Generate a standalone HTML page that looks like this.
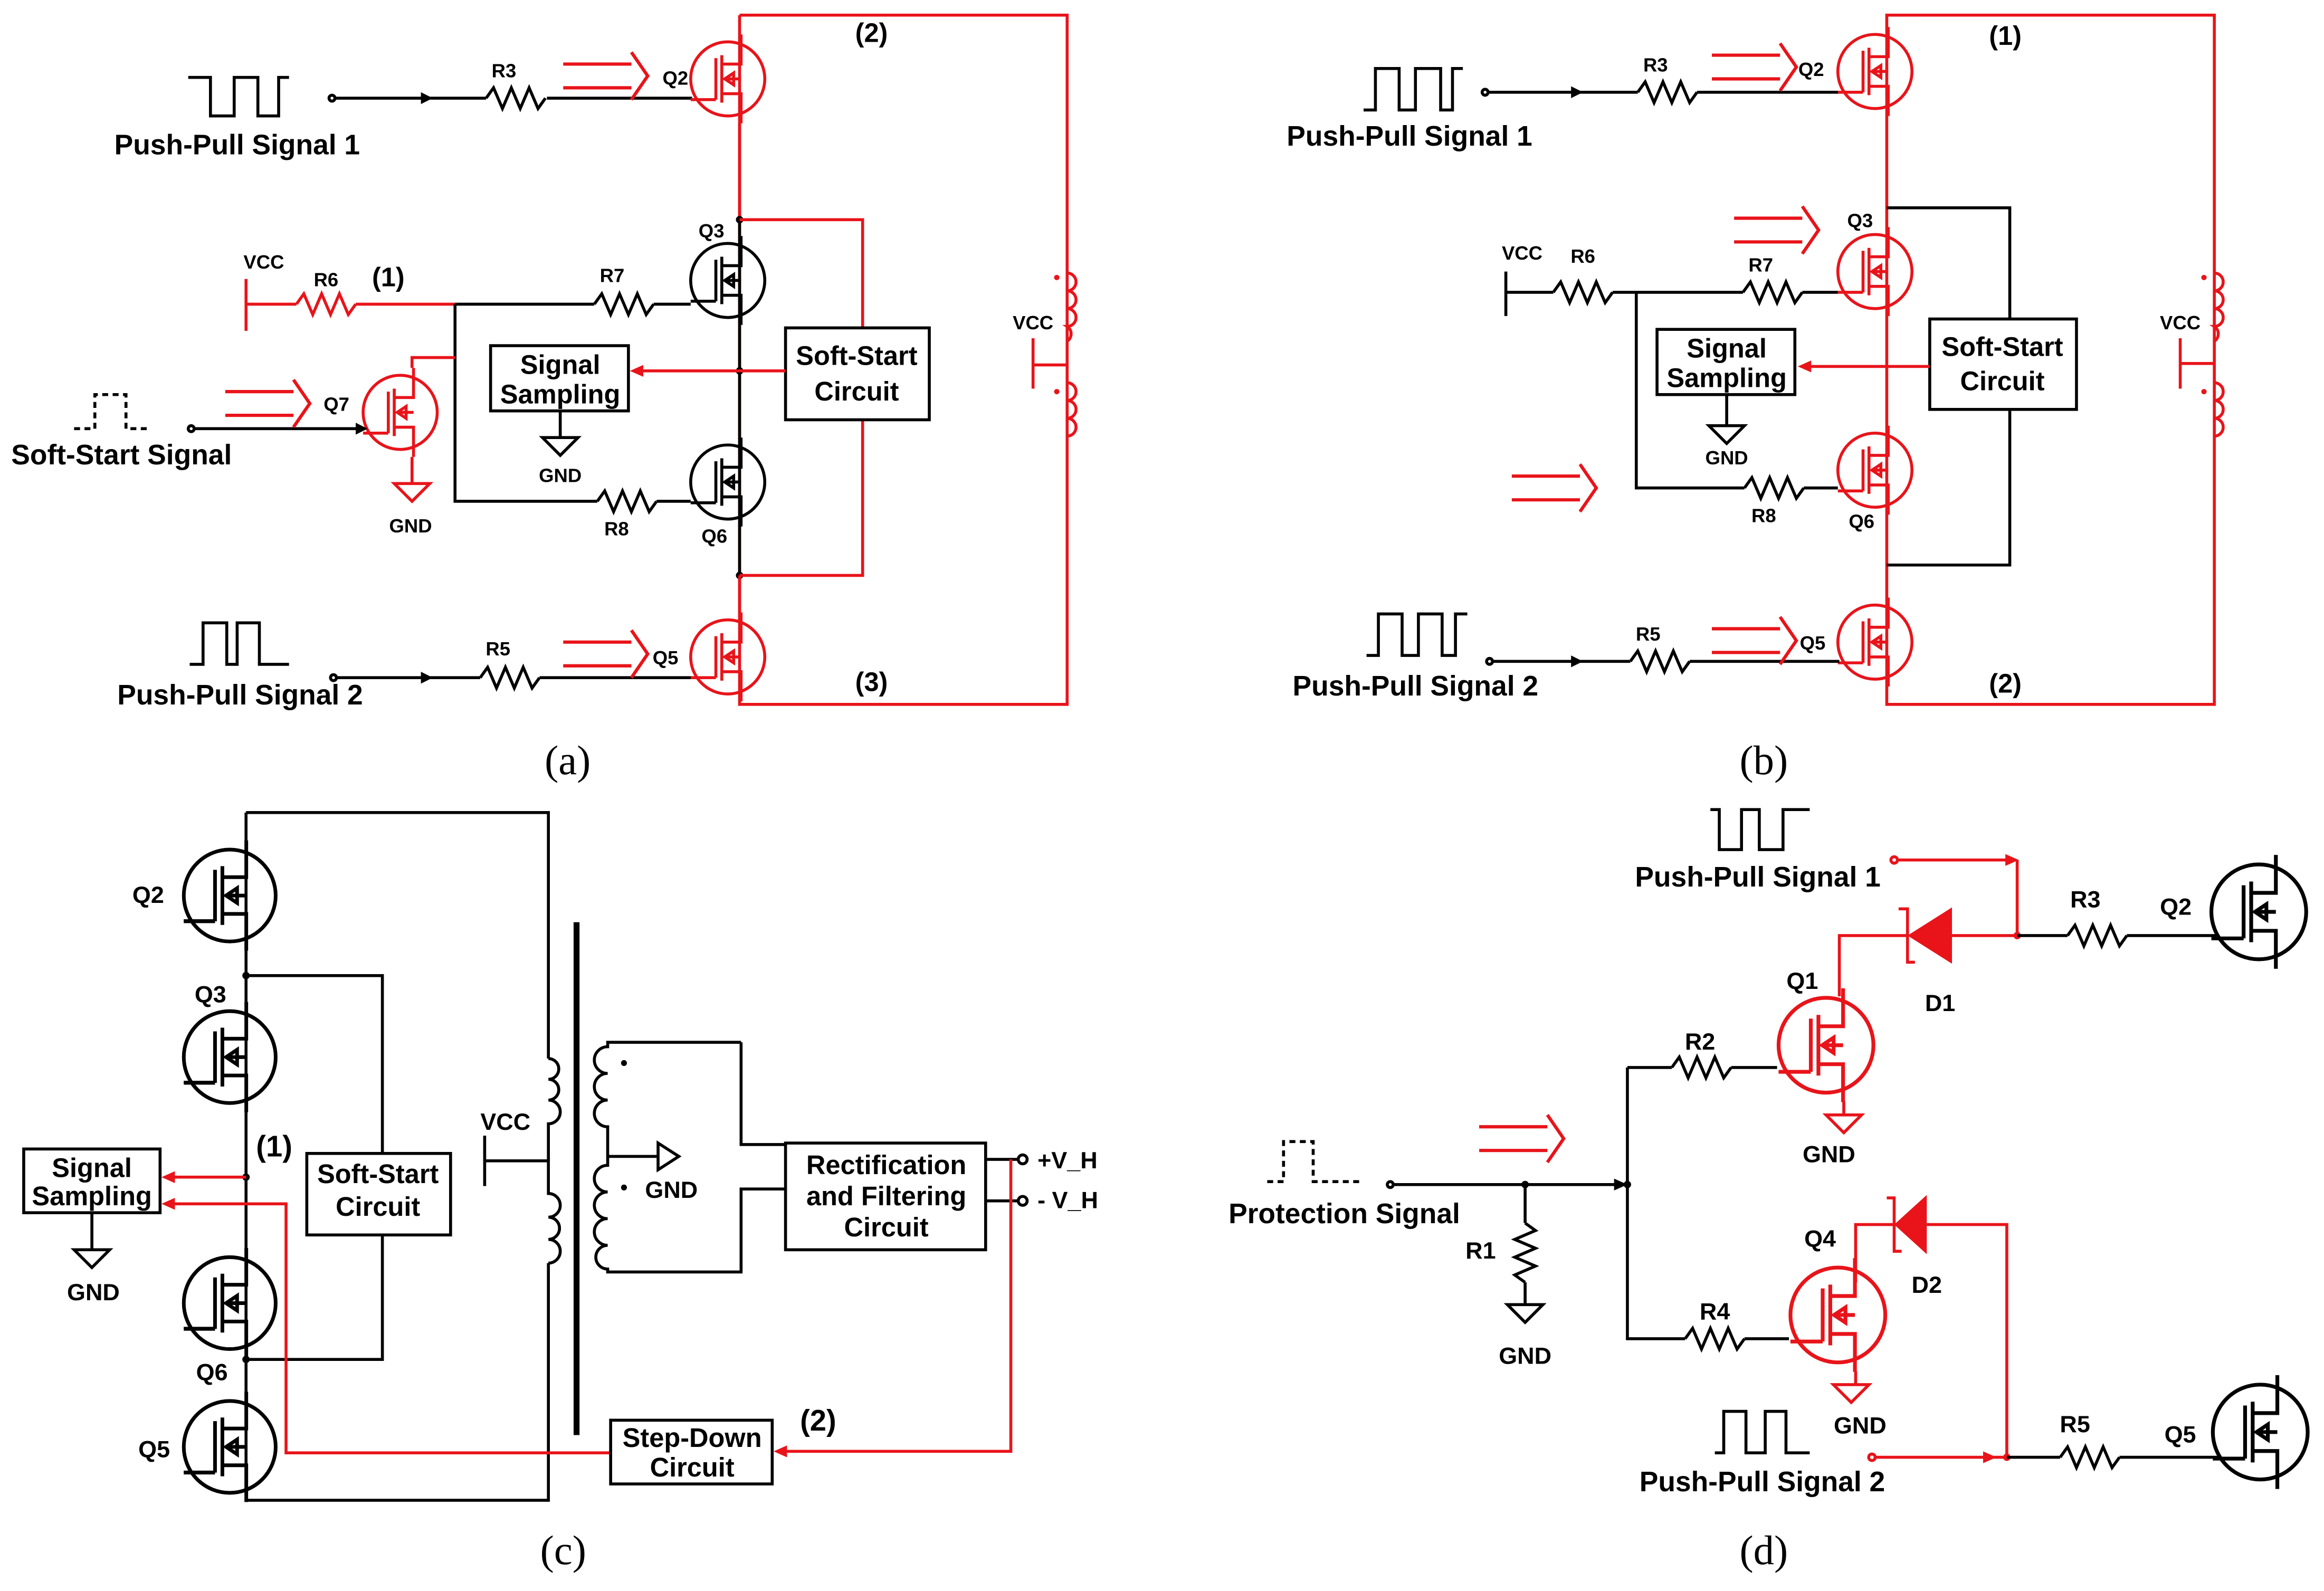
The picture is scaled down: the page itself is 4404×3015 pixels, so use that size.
<!DOCTYPE html>
<html><head><meta charset="utf-8"><style>
html,body{margin:0;padding:0;background:#fff}
svg{display:block}
text{font-family:"Liberation Sans",Arial,sans-serif;font-weight:bold;fill:#000}
.s{font-family:"Liberation Serif",serif;font-weight:normal;font-size:28px}
.k{stroke:#000;stroke-width:2;fill:none}
.r{stroke:#e8141a;stroke-width:2;fill:none}
</style></head><body>
<svg width="4404" height="3015" viewBox="0 0 1568 1073" xmlns="http://www.w3.org/2000/svg">
<defs>
<g id="mos" fill="none" stroke="currentColor" stroke-width="2">
<circle cx="0" cy="0" r="25"/>
<path d="M-25,14 H-8 M-8,-14 V14 M-4,-16 V16 M-4,-10 H9 V-30 M-4,10 H9 V30 M9,0 H-1"/>
<path d="M-2,0 L4,-4 L4,4 Z"/>
</g>
<path id="res" d="M-20,0 L-15,-7 L-9,7 L-3,-7 L3,7 L9,-7 L15,7 L20,0" fill="none" stroke-width="2"/>
<g id="dar" fill="none" stroke="#e8141a" stroke-width="2.2">
<path d="M0,-8 H46 M0,8 H46 M46,-16 L57,0 L46,16"/>
</g>
<path id="gnd" d="M-12,0 H12 L0,12 Z" fill="none" stroke-width="2"/>
</defs>

<!-- ================= (a) ================= -->
<polyline class="k" points="127,52 142,52 142,78 158,78 158,52 174,52 174,78 188,78 188,52 195,52"/>
<text x="160" y="104" font-size="19" text-anchor="middle">Push-Pull Signal 1</text>
<circle cx="224" cy="66" r="2" class="k"/>
<path class="k" d="M226,66 H328 M369,66 H467"/><path d="M284,62 L292,66 L284,70Z"/>
<use href="#res" x="348" y="66" stroke="#000"/>
<text x="340" y="52" font-size="13" text-anchor="middle">R3</text>
<use href="#dar" x="380" y="51"/>
<text x="447" y="57" font-size="13">Q2</text>
<use href="#mos" x="491" y="53" style="color:#e8141a"/>
<path class="r" d="M499,10 H720 V475 H499 V10"/>
<path class="r" d="M499,83 V148"/>
<text x="588" y="28" font-size="18" text-anchor="middle">(2)</text>
<text x="588" y="466" font-size="18" text-anchor="middle">(3)</text>
<path class="r" d="M720,184 a6,6 0 0 1 0,12 a6,6 0 0 1 0,12 a6,6 0 0 1 0,12 a6,6 0 0 1 0,10 M720,258 a6,6 0 0 1 0,12 a6,6 0 0 1 0,12 a6,6 0 0 1 0,12"/>
<circle cx="713" cy="187" r="1.8" fill="#e8141a"/><circle cx="713" cy="264" r="1.8" fill="#e8141a"/>
<text x="697" y="222" font-size="13" text-anchor="middle">VCC</text>
<path class="r" d="M697,228 V262 M697,246 H720"/>
<path class="k" d="M499,148 V388"/>
<circle cx="499" cy="148" r="2.5"/><circle cx="499" cy="250" r="2.5"/><circle cx="499" cy="388" r="2.5"/>
<path class="r" d="M499,148 H582 V221 M582,283 V388 H499 M499,388 V418"/>
<rect x="530" y="221" width="97" height="62" class="k" stroke-width="2.5"/>
<text x="578" y="246" font-size="18" text-anchor="middle">Soft-Start</text>
<text x="578" y="270" font-size="18" text-anchor="middle">Circuit</text>
<path class="r" d="M530,250 H428"/><path d="M425,250 L434,246 L434,254Z" fill="#e8141a"/>
<rect x="331" y="233" width="93" height="44" class="k" stroke-width="2.5"/>
<text x="378" y="252" font-size="18" text-anchor="middle">Signal</text>
<text x="378" y="272" font-size="18" text-anchor="middle">Sampling</text>
<path class="k" d="M378,277 V295"/><use href="#gnd" x="378" y="295" stroke="#000"/>
<text x="378" y="325" font-size="13" text-anchor="middle">GND</text>
<use href="#mos" x="491" y="189" style="color:#000"/>
<use href="#mos" x="491" y="325" style="color:#000"/>
<text x="480" y="160" font-size="13" text-anchor="middle">Q3</text>
<text x="482" y="366" font-size="13" text-anchor="middle">Q6</text>
<path class="k" d="M307,205 H401 M441,205 H466"/>
<use href="#res" x="421" y="205" stroke="#000"/>
<text x="413" y="190" font-size="13" text-anchor="middle">R7</text>
<path class="r" d="M166,188 V223 M166,205 H200 M240,205 H307"/>
<use href="#res" x="220" y="205" stroke="#e8141a"/>
<text x="178" y="181" font-size="13" text-anchor="middle">VCC</text>
<text x="220" y="193" font-size="13" text-anchor="middle">R6</text>
<text x="262" y="193" font-size="18" text-anchor="middle">(1)</text>
<path class="k" d="M307,205 V338 H403 M443,338 H466"/>
<use href="#res" x="423" y="338" stroke="#000"/>
<text x="416" y="361" font-size="13" text-anchor="middle">R8</text>
<path class="r" d="M307,241 H278 V248"/>
<use href="#mos" x="270" y="278" style="color:#e8141a"/>
<path class="r" d="M278,308 V326"/><use href="#gnd" x="278" y="326" stroke="#e8141a"/>
<text x="277" y="359" font-size="13" text-anchor="middle">GND</text>
<polyline class="k" stroke-dasharray="4,3" points="50,289 64,289 64,266 85,266 85,289 100,289"/>
<text x="82" y="313" font-size="19" text-anchor="middle">Soft-Start Signal</text>
<circle cx="129" cy="289" r="2" class="k"/>
<path class="k" d="M131,289 H245"/><path d="M240,285 L248,289 L240,293Z"/>
<use href="#dar" x="152" y="272"/>
<text x="227" y="277" font-size="13" text-anchor="middle">Q7</text>
<polyline class="k" points="128,448 137,448 137,420 153,420 153,448 160,448 160,420 175,420 175,448 195,448"/>
<text x="162" y="475" font-size="19" text-anchor="middle">Push-Pull Signal 2</text>
<circle cx="225" cy="457" r="2" class="k"/>
<path class="k" d="M227,457 H324 M364,457 H467"/><path d="M284,453 L292,457 L284,461Z"/>
<use href="#res" x="344" y="457" stroke="#000"/>
<text x="336" y="442" font-size="13" text-anchor="middle">R5</text>
<use href="#dar" x="380" y="441"/>
<text x="449" y="448" font-size="13" text-anchor="middle">Q5</text>
<use href="#mos" x="491" y="443" style="color:#e8141a"/>
<text x="383" y="522" class="s" text-anchor="middle">(a)</text>

<!-- ================= (b) ================= -->
<polyline class="k" points="920,74 928,74 928,46 944,46 944,74 955,74 955,46 972,46 972,74 980,74 980,46 987,46"/>
<text x="951" y="98" font-size="19" text-anchor="middle">Push-Pull Signal 1</text>
<circle cx="1002" cy="62" r="2" class="k"/>
<path class="k" d="M1004,62 H1105 M1145,62 H1241"/><path d="M1060,58 L1068,62 L1060,66Z"/>
<use href="#res" x="1125" y="62" stroke="#000"/>
<text x="1117" y="48" font-size="13" text-anchor="middle">R3</text>
<use href="#dar" x="1155" y="45"/>
<text x="1222" y="51" font-size="13" text-anchor="middle">Q2</text>
<use href="#mos" x="1265" y="48" style="color:#e8141a"/>
<path class="r" d="M1273,10 H1494 V475 H1273 Z"/>
<text x="1353" y="30" font-size="18" text-anchor="middle">(1)</text>
<text x="1353" y="467" font-size="18" text-anchor="middle">(2)</text>
<path class="r" d="M1494,184 a6,6 0 0 1 0,12 a6,6 0 0 1 0,12 a6,6 0 0 1 0,12 a6,6 0 0 1 0,10 M1494,258 a6,6 0 0 1 0,12 a6,6 0 0 1 0,12 a6,6 0 0 1 0,12"/>
<circle cx="1487" cy="187" r="1.8" fill="#e8141a"/><circle cx="1487" cy="264" r="1.8" fill="#e8141a"/>
<text x="1471" y="222" font-size="13" text-anchor="middle">VCC</text>
<path class="r" d="M1471,228 V262 M1471,245 H1494"/>
<path class="k" d="M1273,140 H1356 V215 M1356,276 V381 H1273"/>
<rect x="1302" y="215" width="99" height="61" class="k" stroke-width="2.5"/>
<text x="1351" y="240" font-size="18" text-anchor="middle">Soft-Start</text>
<text x="1351" y="263" font-size="18" text-anchor="middle">Circuit</text>
<path class="r" d="M1302,247 H1216"/><path d="M1213,247 L1222,243 L1222,251Z" fill="#e8141a"/>
<rect x="1118" y="222" width="93" height="44" class="k" stroke-width="2.5"/>
<text x="1165" y="241" font-size="18" text-anchor="middle">Signal</text>
<text x="1165" y="261" font-size="18" text-anchor="middle">Sampling</text>
<path class="k" d="M1165,266 V287"/><use href="#gnd" x="1165" y="287" stroke="#000"/>
<text x="1165" y="313" font-size="13" text-anchor="middle">GND</text>
<use href="#mos" x="1265" y="183" style="color:#e8141a"/>
<use href="#mos" x="1265" y="317" style="color:#e8141a"/>
<use href="#mos" x="1265" y="433" style="color:#e8141a"/>
<text x="1255" y="153" font-size="13" text-anchor="middle">Q3</text>
<text x="1256" y="356" font-size="13" text-anchor="middle">Q6</text>
<use href="#dar" x="1170" y="155"/>
<use href="#dar" x="1020" y="329"/>
<path class="k" d="M1016,183 V213 M1016,197 H1048 M1088,197 H1176 M1216,197 H1240"/>
<use href="#res" x="1068" y="197" stroke="#000"/>
<use href="#res" x="1196" y="197" stroke="#000"/>
<text x="1027" y="175" font-size="13" text-anchor="middle">VCC</text>
<text x="1068" y="177" font-size="13" text-anchor="middle">R6</text>
<text x="1188" y="183" font-size="13" text-anchor="middle">R7</text>
<path class="k" d="M1104,197 V329 H1177 M1217,329 H1240"/>
<use href="#res" x="1197" y="329" stroke="#000"/>
<text x="1190" y="352" font-size="13" text-anchor="middle">R8</text>
<polyline class="k" points="922,442 930,442 930,414 946,414 946,442 957,442 957,414 973,414 973,442 982,442 982,414 990,414"/>
<text x="955" y="469" font-size="19" text-anchor="middle">Push-Pull Signal 2</text>
<circle cx="1005" cy="446" r="2" class="k"/>
<path class="k" d="M1007,446 H1100 M1140,446 H1241"/><path d="M1060,442 L1068,446 L1060,450Z"/>
<use href="#res" x="1120" y="446" stroke="#000"/>
<text x="1112" y="432" font-size="13" text-anchor="middle">R5</text>
<use href="#dar" x="1155" y="432"/>
<text x="1223" y="438" font-size="13" text-anchor="middle">Q5</text>
<text x="1190" y="522" class="s" text-anchor="middle">(b)</text>

<!-- ================= (c) ================= -->
<path class="k" d="M166,548 H370 V714 M370,852 V1012 H166 V548"/>
<use href="#mos" transform="translate(155,604) scale(1.24)" style="color:#000"/>
<use href="#mos" transform="translate(155,713) scale(1.24)" style="color:#000"/>
<use href="#mos" transform="translate(155,879) scale(1.24)" style="color:#000"/>
<use href="#mos" transform="translate(155,976) scale(1.24)" style="color:#000"/>
<path class="k" d="M124,621 H145 M124,730 H145 M124,896 H145 M124,993 H145"/>
<text x="100" y="609" font-size="16" text-anchor="middle">Q2</text>
<text x="142" y="676" font-size="16" text-anchor="middle">Q3</text>
<text x="143" y="931" font-size="16" text-anchor="middle">Q6</text>
<text x="104" y="983" font-size="16" text-anchor="middle">Q5</text>
<path class="k" d="M166,658 H258 V778 M258,833 V917 H166"/>
<circle cx="166" cy="658" r="2.5"/><circle cx="166" cy="917" r="2.5"/><circle cx="166" cy="794" r="2.5"/>
<rect x="207" y="778" width="97" height="55" class="k" stroke-width="2.5"/>
<text x="255" y="798" font-size="18" text-anchor="middle">Soft-Start</text>
<text x="255" y="820" font-size="18" text-anchor="middle">Circuit</text>
<text x="185" y="780" font-size="20" text-anchor="middle">(1)</text>
<path class="r" d="M166,794 H114"/><path d="M109,794 L118,790 L118,798Z" fill="#e8141a"/>
<path class="r" d="M114,812 H193 V980 H412"/><path d="M109,812 L118,808 L118,816Z" fill="#e8141a"/>
<rect x="16" y="775" width="92" height="43" class="k" stroke-width="2.5"/>
<text x="62" y="794" font-size="18" text-anchor="middle">Signal</text>
<text x="62" y="813" font-size="18" text-anchor="middle">Sampling</text>
<path class="k" d="M62,818 V843"/><use href="#gnd" x="62" y="843" stroke="#000"/>
<text x="63" y="877" font-size="16" text-anchor="middle">GND</text>
<path class="k" d="M370,714 a7,7 0 0 1 0,14 a7,7 0 0 1 0,14 a7,7 0 0 1 0,16 V805 a7,7 0 0 1 0,16 a7,7 0 0 1 0,15 a7,7 0 0 1 0,16"/>
<text x="341" y="762" font-size="16" text-anchor="middle">VCC</text>
<path class="k" d="M327,766 V800 M327,783 H370"/>
<path d="M389,622 V968" stroke="#000" stroke-width="4"/>
<path class="k" d="M500,703 H410 V706 a7,7 0 0 0 0,18 a7,7 0 0 0 0,18 a7,7 0 0 0 0,18 V786 a7,7 0 0 0 0,18 a7,7 0 0 0 0,18 a7,7 0 0 0 0,18 a7,7 0 0 0 0,16 V858 H500 V802 H530 M500,703 V772 H530 M410,780 H444"/>
<path class="k" d="M444,771 V789 L458,780 Z"/>
<circle cx="421" cy="717" r="2"/><circle cx="421" cy="801" r="2"/>
<text x="453" y="808" font-size="16" text-anchor="middle">GND</text>
<rect x="530" y="771" width="135" height="72" class="k" stroke-width="2.5"/>
<text x="598" y="792" font-size="18" text-anchor="middle">Rectification</text>
<text x="598" y="813" font-size="18" text-anchor="middle">and Filtering</text>
<text x="598" y="834" font-size="18" text-anchor="middle">Circuit</text>
<path class="k" d="M665,782 H687 M665,810 H687"/>
<circle cx="690" cy="782" r="3" class="k" stroke-width="1.5"/><circle cx="690" cy="810" r="3" class="k" stroke-width="1.5"/>
<text x="700" y="788" font-size="16">+V_H</text>
<text x="700" y="815" font-size="16">- V_H</text>
<path class="r" d="M682,782 V979 H528"/><path d="M522,979 L531,975 L531,983Z" fill="#e8141a"/>
<rect x="412" y="958" width="109" height="43" class="k" stroke-width="2.5"/>
<text x="467" y="976" font-size="18" text-anchor="middle">Step-Down</text>
<text x="467" y="996" font-size="18" text-anchor="middle">Circuit</text>
<text x="552" y="965" font-size="20" text-anchor="middle">(2)</text>
<text x="380" y="1055" class="s" text-anchor="middle">(c)</text>

<!-- ================= (d) ================= -->
<polyline class="k" points="1154,546 1160,546 1160,573 1175,573 1175,546 1187,546 1187,573 1203,573 1203,546 1221,546"/>
<text x="1186" y="598" font-size="19" text-anchor="middle">Push-Pull Signal 1</text>
<circle cx="1278" cy="580" r="2.2" class="r" stroke-width="1.5"/>
<path class="r" d="M1280,580 H1355 M1361,580 V631 M1317,631 H1361"/><path d="M1362,580 L1353,576 L1353,584Z" fill="#e8141a"/>
<circle cx="1361" cy="631" r="2.5" fill="#e8141a"/>
<path class="k" d="M1361,631 H1395 M1435,631 H1495"/>
<use href="#res" x="1415" y="631" stroke="#000"/>
<text x="1407" y="612" font-size="16" text-anchor="middle">R3</text>
<text x="1468" y="617" font-size="16" text-anchor="middle">Q2</text>
<use href="#mos" transform="translate(1524,615) scale(1.28)" style="color:#000"/>
<path d="M1287,631 L1317,612 L1317,650 Z" fill="#e8141a"/>
<path class="r" d="M1281,613 H1287 V649 H1292 M1287,631 H1241 V672"/>
<text x="1309" y="682" font-size="16" text-anchor="middle">D1</text>
<use href="#mos" transform="translate(1232,705) scale(1.28)" style="color:#e8141a"/>
<text x="1216" y="667" font-size="16" text-anchor="middle">Q1</text>
<path class="k" d="M1098,720 H1128 M1168,720 H1199"/>
<use href="#res" x="1148" y="720" stroke="#000"/>
<text x="1147" y="708" font-size="16" text-anchor="middle">R2</text>
<path class="r" d="M1244,743 V752"/><use href="#gnd" x="1244" y="752" stroke="#e8141a"/>
<text x="1234" y="784" font-size="16" text-anchor="middle">GND</text>
<path class="k" d="M1098,720 V903 H1137 M1177,903 H1207"/>
<use href="#res" x="1157" y="903" stroke="#000"/>
<text x="1157" y="890" font-size="16" text-anchor="middle">R4</text>
<polyline class="k" stroke-dasharray="4,3" points="855,797 866,797 866,770 886,770 886,797 920,797"/>
<text x="907" y="825" font-size="19" text-anchor="middle">Protection Signal</text>
<circle cx="938" cy="799" r="2" class="k"/>
<path class="k" d="M940,799 H1094"/><path d="M1098,799 L1089,795 L1089,803Z"/>
<circle cx="1029" cy="799" r="2.5"/><circle cx="1098" cy="799" r="2.5"/>
<path class="k" d="M1029,799 V825 M1029,865 V880"/>
<use href="#res" transform="translate(1029,845) rotate(90)" stroke="#000"/>
<use href="#gnd" x="1029" y="880" stroke="#000"/>
<text x="999" y="849" font-size="16" text-anchor="middle">R1</text>
<text x="1029" y="920" font-size="16" text-anchor="middle">GND</text>
<use href="#dar" x="998" y="768"/>
<use href="#mos" transform="translate(1240,887) scale(1.28)" style="color:#e8141a"/>
<text x="1228" y="841" font-size="16" text-anchor="middle">Q4</text>
<path class="r" d="M1252,865 V826 H1278 M1300,826 H1354 V983"/>
<path d="M1278,826 L1300,806 L1300,846 Z" fill="#e8141a"/>
<path class="r" d="M1273,808 H1278 V844 H1283"/>
<text x="1300" y="872" font-size="16" text-anchor="middle">D2</text>
<path class="r" d="M1252,925 V934"/><use href="#gnd" x="1249" y="934" stroke="#e8141a"/>
<text x="1255" y="967" font-size="16" text-anchor="middle">GND</text>
<polyline class="k" points="1157,980 1163,980 1163,952 1178,952 1178,980 1191,980 1191,952 1205,952 1205,980 1221,980"/>
<text x="1189" y="1006" font-size="19" text-anchor="middle">Push-Pull Signal 2</text>
<circle cx="1263" cy="983" r="2.2" class="r" stroke-width="1.5"/>
<path class="r" d="M1265,983 H1354"/><path d="M1347,983 L1338,979 L1338,987Z" fill="#e8141a"/>
<circle cx="1354" cy="983" r="2.5" fill="#e8141a"/>
<path class="k" d="M1354,983 H1390 M1430,983 H1497"/>
<use href="#res" x="1410" y="983" stroke="#000"/>
<text x="1400" y="966" font-size="16" text-anchor="middle">R5</text>
<text x="1471" y="973" font-size="16" text-anchor="middle">Q5</text>
<use href="#mos" transform="translate(1525,966) scale(1.28)" style="color:#000"/>
<text x="1190" y="1055" class="s" text-anchor="middle">(d)</text>
</svg>
</body></html>
